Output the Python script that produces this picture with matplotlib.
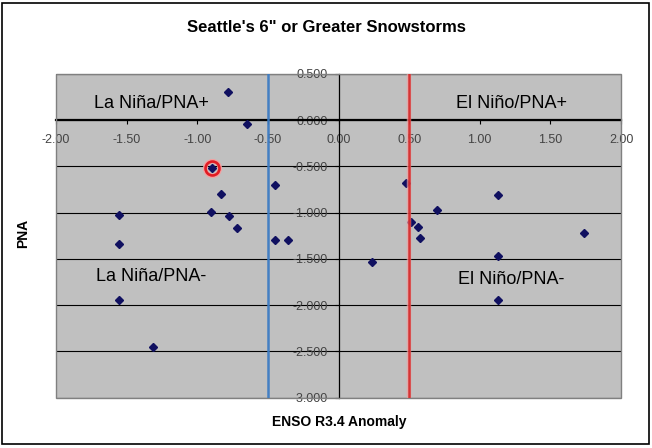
import matplotlib
matplotlib.use("Agg")
import matplotlib.pyplot as plt
from matplotlib.patches import Rectangle
import numpy as np

plt.rcParams['font.family'] = ['Liberation Sans', 'DejaVu Sans']

# Data: ENSO R3.4 anomaly (x) vs PNA (y)
enso = [-0.78, -0.645, -0.895, -0.45, -0.83, -1.554, -0.90, -0.773, -0.72,
        -1.554, -0.45, -0.36, -1.554, -1.31,
        0.478, 1.13, 0.70, 0.513, 0.565, 0.58, 1.74, 0.237, 1.13, 1.13]
pna = [0.30, -0.046, -0.52, -0.70, -0.80, -1.03, -0.99, -1.04, -1.17,
       -1.34, -1.30, -1.30, -1.95, -2.45,
       -0.676, -0.81, -0.97, -1.10, -1.16, -1.27, -1.22, -1.53, -1.47, -1.95]
highlight_x = [-0.895]
highlight_y = [-0.52]
threshold_lines = [-0.5, 0.5]
x_ticks = [-2.0, -1.5, -1.0, -0.5, 0.0, 0.5, 1.0, 1.5, 2.0]
y_ticks = [0.5, 0.0, -0.5, -1.0, -1.5, -2.0, -2.5, -3.0]
quadrant_labels = ["La Niña/PNA+", "El Niño/PNA+", "La Niña/PNA-", "El Niño/PNA-"]
quadrant_pos = [(-1.327, 0.18), (1.225, 0.18), (-1.33, -1.688), (1.22, -1.72)]

W, H = 652, 448
fig = plt.figure(figsize=(W / 100, H / 100), dpi=100)
fig.patch.set_facecolor('white')

# chart border
fig.patches.append(Rectangle((2 / W, 4 / H), 647 / W, 441 / H, transform=fig.transFigure,
                             fill=False, edgecolor='black', linewidth=1.2))

ax = fig.add_axes([56 / W, 1 - 397.5 / H, 565 / W, 323.5 / H])
ax.set_facecolor('#c0c0c0')
ax.set_xlim(-2, 2)
ax.set_ylim(-3, 0.5)

for s in ['top', 'right']:
    ax.spines[s].set_visible(False)
ax.spines['left'].set_position(('data', 0))
ax.spines['bottom'].set_position(('data', 0))
ax.spines['left'].set_color('black')
ax.spines['left'].set_linewidth(0.9)
ax.spines['bottom'].set_color('black')
ax.spines['bottom'].set_linewidth(1.6)
ax.spines['left'].set_zorder(3)
ax.spines['bottom'].set_zorder(3)

# plot-area frame
ax.add_patch(Rectangle((0, 0), 1, 1, transform=ax.transAxes, fill=False,
                       edgecolor='#808080', linewidth=1.0, zorder=4, clip_on=False))

ax.set_xticks(x_ticks)
ax.set_xticklabels([f"{v:.2f}" for v in x_ticks])
ax.set_yticks(y_ticks)
ax.set_yticklabels([f"{v:.3f}" for v in y_ticks])
ax.tick_params(axis='x', direction='out', length=3, width=0.8, pad=7,
               labelsize=9, labelcolor='#444444', color='black')
ax.tick_params(axis='y', direction='out', length=3, width=0.8, pad=5,
               labelsize=9, labelcolor='#444444', color='black')

ax.yaxis.grid(True, color='black', linewidth=0.8)
ax.xaxis.grid(False)
ax.set_axisbelow(True)

# points
ax.plot(enso, pna, linestyle='none', marker='D', markersize=3.8,
        color='#101060', zorder=5)

# threshold lines
ax.axvline(threshold_lines[0], color='#3d7cc4', linewidth=1.8, zorder=6, alpha=0.95)
ax.axvline(threshold_lines[1], color='#f0a0a0', linewidth=3.2, zorder=6, alpha=0.7)
ax.axvline(threshold_lines[1], color='#d42020', linewidth=1.8, zorder=6, alpha=0.85)

# highlight circle
ax.plot(highlight_x, highlight_y, linestyle='none', marker='o', markersize=10.5,
        markerfacecolor='none', markeredgecolor='#f4a0a0', markeredgewidth=3.2, zorder=7)
ax.plot(highlight_x, highlight_y, linestyle='none', marker='o', markersize=10,
        markerfacecolor='none', markeredgecolor='#e01c24', markeredgewidth=1.9, zorder=7)

for lbl, (qx, qy) in zip(quadrant_labels, quadrant_pos):
    ax.text(qx, qy, lbl, ha='center', va='center', fontsize=13, color='black', zorder=8)

fig.text(326 / W, 1 - 27 / H, "Seattle's 6\" or Greater Snowstorms", ha='center', va='center',
         fontsize=12, fontweight='bold', color='black')
fig.text(339 / W, 1 - 422 / H, "ENSO R3.4 Anomaly", ha='center', va='center',
         fontsize=10, fontweight='bold', color='black')
fig.text(23 / W, 1 - 233 / H, "PNA", ha='center', va='center', rotation=90,
         fontsize=10, fontweight='bold', color='black')

fig.savefig('out.png', dpi=100, facecolor='white')
